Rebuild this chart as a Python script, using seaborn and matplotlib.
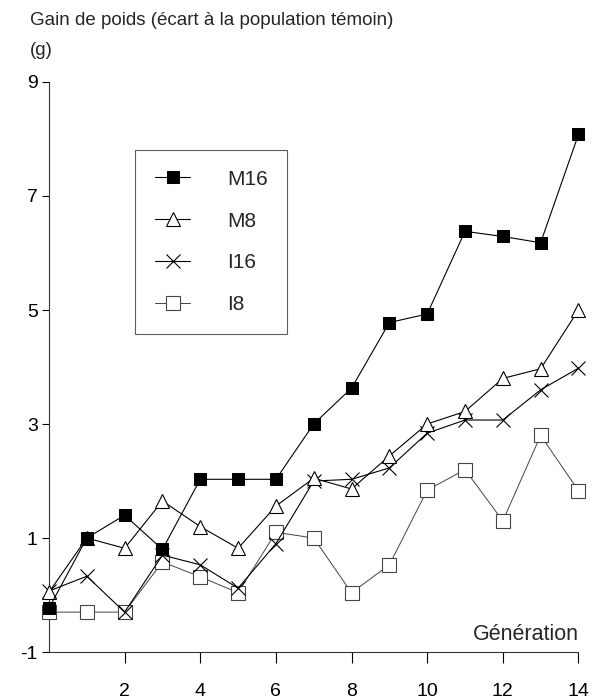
import matplotlib
matplotlib.use("Agg")
import matplotlib.pyplot as plt
import seaborn as sns
import pandas as pd

generations = list(range(15))
m16 = [-0.23, 1.0, 1.4, 0.8, 2.03, 2.03, 2.03, 3.0, 3.63, 4.78, 4.93, 6.38, 6.29, 6.18, 8.08]
m8 = [0.05, 1.0, 0.82, 1.65, 1.2, 0.82, 1.56, 2.05, 1.86, 2.44, 3.0, 3.22, 3.8, 3.97, 5.0]
i16 = [0.07, 0.33, -0.3, 0.7, 0.53, 0.12, 0.9, 2.0, 2.03, 2.23, 2.84, 3.07, 3.07, 3.6, 3.98]
i8 = [-0.3, -0.3, -0.3, 0.58, 0.32, 0.04, 1.1, 1.0, 0.04, 0.53, 1.84, 2.2, 1.3, 2.8, 1.83]
series_names = ["M16", "M8", "I16", "I8"]
x_ticks = [2, 4, 6, 8, 10, 12, 14]
y_ticks = [-1, 1, 3, 5, 7, 9]

sns.set_theme(style="ticks")
plt.rcParams['font.family'] = ['Liberation Sans', 'DejaVu Sans']
plt.rcParams['axes.unicode_minus'] = False

fig = plt.figure(figsize=(5.93, 6.99), dpi=100)
ax = fig.add_axes([0.0826, 0.0672, 0.8929, 0.8155])

styles = {
    "M16": dict(marker="s", markersize=9, markerfacecolor="black", markeredgecolor="black", color="black", linewidth=0.8),
    "M8": dict(marker="^", markersize=10, markerfacecolor="white", markeredgecolor="black", markeredgewidth=0.8, color="black", linewidth=0.8),
    "I16": dict(marker="x", markersize=10, markeredgecolor="black", markeredgewidth=0.8, color="black", linewidth=0.8),
    "I8": dict(marker="s", markersize=10, markerfacecolor="white", markeredgecolor="#444444", markeredgewidth=0.8, color="#444444", linewidth=0.7),
}
data = {"M16": m16, "M8": m8, "I16": i16, "I8": i8}
order = ["I8", "I16", "M8", "M16"]
for name in order:
    df = pd.DataFrame({"g": generations, "v": data[name]})
    sns.lineplot(data=df, x="g", y="v", ax=ax, label=name, clip_on=False, zorder=3 + order.index(name), **styles[name])

ax.set_xlim(0, 14)
ax.set_ylim(-1, 9)
ax.set_xticks(x_ticks)
ax.set_yticks(y_ticks)
ax.set_xlabel("")
ax.set_ylabel("")
for s in ["top", "right"]:
    ax.spines[s].set_visible(False)
for s in ["left", "bottom"]:
    ax.spines[s].set_linewidth(0.8)
    ax.spines[s].set_color("#333333")
ax.tick_params(axis="x", direction="out", length=8, width=0.8, pad=14, labelsize=14, colors="black")
ax.tick_params(axis="y", direction="out", length=5, width=0.8, pad=3, labelsize=14, colors="black")

ax.text(1.0, 0.012, "Génération", transform=ax.transAxes, ha="right", va="bottom", fontsize=15.5)
fig.text(0.051, 0.971, "Gain de poids (écart à la population témoin)", ha="left", va="center", fontsize=13.5)
fig.text(0.051, 0.928, "(g)", ha="left", va="center", fontsize=13.5)

handles, labels = ax.get_legend_handles_labels()
hmap = dict(zip(labels, handles))
leg = ax.legend([hmap[n] for n in series_names], series_names,
                loc="upper left", bbox_to_anchor=(0.163, 0.881), frameon=True, fancybox=False,
                edgecolor="#333333", fontsize=15, handlelength=1.7, handletextpad=1.75,
                labelspacing=1.1, borderpad=0.95, borderaxespad=0)
leg.get_frame().set_linewidth(0.8)

fig.savefig("out.png", dpi=100, facecolor="white")
